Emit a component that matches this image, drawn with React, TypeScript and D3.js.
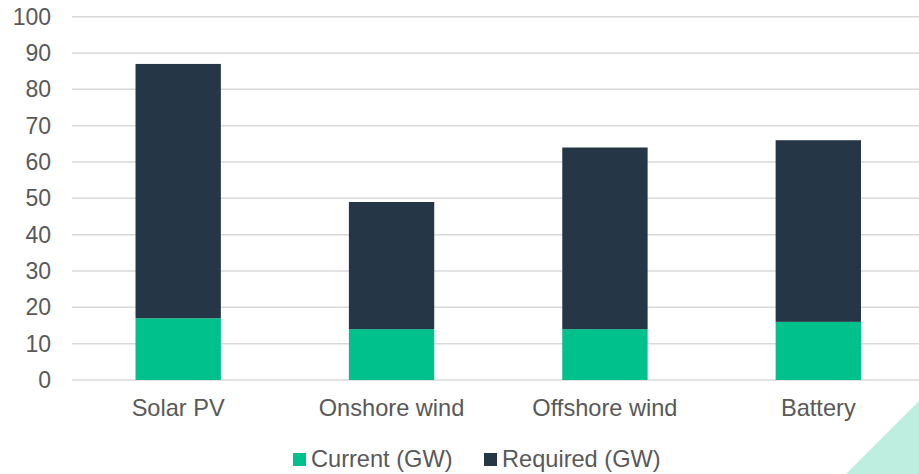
import { useEffect, useRef } from "react";
import * as d3 from "d3";

const categories = ["Solar PV", "Onshore wind", "Offshore wind", "Battery"];
const currentGW = [17, 14, 14, 16];
const requiredGW = [70, 35, 50, 50];
const seriesNames = ["Current (GW)", "Required (GW)"];
const yTicks = [0, 10, 20, 30, 40, 50, 60, 70, 80, 90, 100];

const WIDTH = 919;
const HEIGHT = 474;
const COLORS = ["#00c08b", "#253746"];
const FONT = "'Liberation Sans', Arial, sans-serif";

export default function App() {
  const ref = useRef<SVGSVGElement>(null);

  useEffect(() => {
    const svg = d3.select(ref.current);
    svg.selectAll("*").remove();

    const x = d3
      .scaleBand()
      .domain(categories)
      .range([71.5, 925])
      .paddingInner(0.6)
      .paddingOuter(0.3);

    const y = d3.scaleLinear().domain([0, 100]).range([380, 16.7]);

    // gridlines + y labels
    svg
      .append("g")
      .selectAll("line")
      .data(yTicks)
      .join("line")
      .attr("x1", 72)
      .attr("x2", WIDTH)
      .attr("y1", (d) => y(d))
      .attr("y2", (d) => y(d))
      .attr("stroke", "#d9d9d9")
      .attr("stroke-width", 1.5);

    svg
      .append("g")
      .selectAll("text")
      .data(yTicks)
      .join("text")
      .text((d) => d)
      .attr("x", 51)
      .attr("y", (d) => y(d) + 8)
      .attr("text-anchor", "end")
      .attr("font-family", FONT)
      .attr("font-size", 23)
      .attr("fill", "#595959");

    // stacked bars
    const rows = categories.map((c, i) => ({ cat: c, current: currentGW[i], required: requiredGW[i] }));
    const stack = d3.stack<any>().keys(["current", "required"])(rows);

    stack.forEach((layer, li) => {
      svg
        .append("g")
        .selectAll("rect")
        .data(layer)
        .join("rect")
        .attr("x", (d: any) => x(d.data.cat)!)
        .attr("width", x.bandwidth())
        .attr("y", (d) => y(d[1]))
        .attr("height", (d) => y(d[0]) - y(d[1]))
        .attr("fill", COLORS[li]);
    });

    // category labels
    svg
      .append("g")
      .selectAll("text")
      .data(categories)
      .join("text")
      .text((d) => d)
      .attr("x", (d) => x(d)! + x.bandwidth() / 2)
      .attr("y", 416)
      .attr("text-anchor", "middle")
      .attr("font-family", FONT)
      .attr("font-size", 23.6)
      .attr("fill", "#595959");

    // corner decoration
    svg
      .append("path")
      .attr("d", `M${WIDTH - 73},${HEIGHT} L${WIDTH},${HEIGHT - 73} L${WIDTH},${HEIGHT} Z`)
      .attr("fill", "#bdeee0");

    // legend
    const legendX = [293, 484];
    const lg = svg.append("g");
    seriesNames.forEach((name, i) => {
      lg.append("rect")
        .attr("x", legendX[i])
        .attr("y", 453)
        .attr("width", 13)
        .attr("height", 13)
        .attr("fill", COLORS[i]);
      lg.append("text")
        .text(name)
        .attr("x", legendX[i] + 18)
        .attr("y", 467)
        .attr("font-family", FONT)
        .attr("font-size", 23.6)
        .attr("fill", "#595959");
    });
  }, []);

  return (
    <svg
      ref={ref}
      width={WIDTH}
      height={HEIGHT}
      style={{ position: "absolute", left: 0, top: 0, background: "#fff" }}
    />
  );
}
